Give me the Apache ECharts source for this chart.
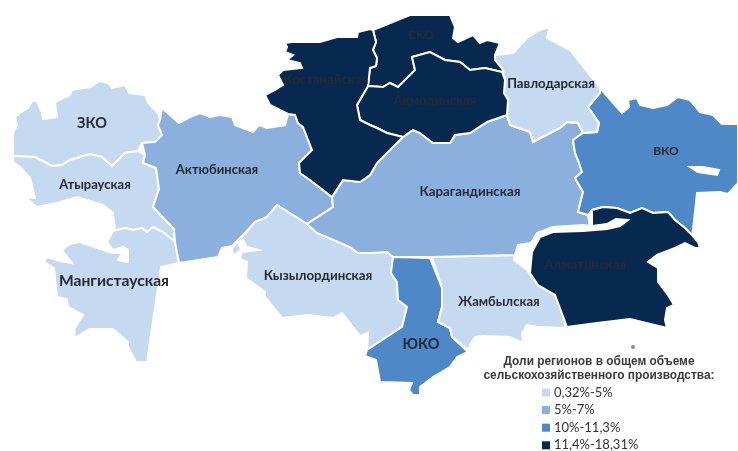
<!DOCTYPE html>
<html>
<head>
<meta charset="utf-8">
<style>
  html, body { margin: 0; padding: 0; background: #fff; }
  #charts { width: 738px; height: 451px; }
</style>
<script src="https://cdn.jsdelivr.net/npm/echarts@6/dist/echarts.min.js"></script>
</head>
<body>
<div id="charts"></div>
<script>
// region names and the legend class each one falls into
const regions = ["ЗКО", "Атырауская", "Мангистауская", "Актюбинская", "Кызылординская", "ЮКО", "Жамбылская",
  "Карагандинская", "ВКО", "Павлодарская", "СКО", "Акмолинская", "Костанайская", "Алматинская"];
const regionClass = [0, 0, 0, 1, 0, 2, 0, 1, 2, 0, 3, 3, 3, 3];
const classLabels = ["0,32%-5%", "5%-7%", "10%-11,3%", "11,4%-18,31%"];
const classColors = ["#c5d9f1", "#8bb0dd", "#4e88c7", "#07294f"];
const labelSizes = [14.5, 13, 15.6, 13, 13.3, 14.5, 13, 13.3, 12, 13.2, 12, 13.2, 13.2, 13.2];
const legendTitle = "Доли регионов в общем объеме\nсельскохозяйственного производства:";

// hand traced outlines, in the picture's own coordinate system
const outlines = {
  "ЗКО": [[[13,156],[13,133],[17,125],[15,117],[20,113],[28,108],[32,101],[37,101],[42,113],[43,119],[57,117],[55,102],[70,95],[72,90],[90,87],[100,81],[108,83],[112,88],[125,85],[129,93],[145,95],[148,103],[158,113],[160,120],[158,125],[162,135],[155,142],[142,143],[138,151],[125,153],[112,166],[102,157],[90,154],[70,160],[62,165],[52,166],[35,157]]],
  "Атырауская": [[[13,156],[35,157],[52,166],[62,165],[70,160],[90,154],[102,157],[112,166],[125,153],[138,151],[145,155],[143,163],[156,168],[159,189],[153,207],[174,229],[175,242],[163,232],[153,227],[147,232],[142,228],[133,230],[125,228],[113,231],[115,230],[113,213],[103,205],[77,197],[57,203],[37,207],[25,197],[35,198],[30,178],[20,167],[13,162]]],
  "Мангистауская": [[[113,231],[125,228],[133,230],[142,228],[147,232],[153,227],[163,232],[175,242],[179,263],[161,267],[147,362],[136,362],[128,347],[128,342],[113,329],[90,329],[74,338],[75,328],[83,315],[68,307],[67,299],[57,297],[54,268],[44,262],[47,257],[60,261],[72,263],[62,250],[70,244],[80,242],[112,253],[122,253],[118,260],[128,262],[128,250],[123,247],[113,250],[107,242]]],
  "Актюбинская": [[[162,108],[179,123],[190,117],[200,113],[210,117],[220,115],[232,117],[235,125],[253,132],[259,125],[267,128],[285,125],[288,114],[295,115],[298,123],[303,127],[312,150],[299,163],[300,173],[310,180],[332,197],[333,207],[307,224],[277,205],[267,217],[255,222],[248,230],[232,246],[222,248],[218,257],[179,263],[175,242],[174,229],[153,207],[159,189],[156,168],[143,163],[145,155],[142,143],[155,142],[162,135],[158,125],[160,120]]],
  "Кызылординская": [[[277,205],[307,224],[317,233],[350,247],[358,253],[370,253],[387,252],[393,257],[391,273],[397,282],[398,300],[407,307],[402,327],[367,350],[368,333],[360,336],[350,323],[342,313],[333,318],[308,315],[282,318],[265,297],[265,292],[246,278],[247,262],[240,259],[242,252],[258,250],[247,247],[243,240],[238,241],[241,250],[233,256],[232,248],[248,230],[255,222],[267,217]]],
  "ЮКО": [[[393,257],[430,258],[442,288],[442,307],[438,322],[450,328],[452,337],[468,352],[457,357],[450,367],[433,377],[420,387],[420,395],[413,395],[409,390],[412,383],[380,382],[376,360],[365,356],[367,350],[402,327],[407,307],[398,300],[397,282],[391,273]]],
  "Жамбылская": [[[432,257],[515,255],[514,260],[527,270],[538,285],[555,295],[565,320],[565,328],[537,327],[527,325],[522,333],[523,343],[510,337],[483,336],[475,337],[470,345],[469,350],[452,337],[450,328],[438,322],[442,307],[442,288]]],
  "Карагандинская": [[[332,197],[343,180],[360,182],[370,175],[377,163],[403,137],[413,130],[420,133],[433,143],[450,143],[455,135],[470,133],[487,122],[507,115],[510,125],[530,132],[533,142],[560,128],[567,122],[578,123],[583,133],[573,140],[575,153],[578,160],[582,172],[575,178],[583,192],[578,212],[588,215],[590,226],[583,225],[553,227],[537,233],[531,243],[518,245],[515,255],[432,257],[393,257],[387,252],[370,253],[358,253],[350,247],[317,233],[307,224],[333,207]]],
  "ВКО": [[[600,88],[622,113],[629,107],[628,100],[637,98],[640,105],[653,108],[667,105],[678,97],[690,100],[700,112],[713,115],[722,124],[738,124],[738,183],[728,194],[720,192],[697,193],[693,230],[692,235],[685,228],[675,220],[668,212],[653,213],[642,208],[630,213],[617,208],[603,207],[592,210],[588,215],[578,212],[583,192],[575,178],[582,172],[578,160],[575,153],[573,140],[583,133],[597,132],[599,123],[588,107],[600,93]],
    [[698,172],[717,175],[719,170],[703,167],[690,167]]],
  "Павлодарская": [[[495,55],[513,53],[527,38],[540,30],[550,27],[548,33],[547,38],[570,50],[600,88],[600,93],[588,107],[599,123],[597,132],[583,133],[578,123],[567,122],[560,128],[533,142],[530,132],[510,125],[507,115],[508,100],[504,93],[505,80],[503,70],[495,60]]],
  "СКО": [[[373,30],[410,15],[450,15],[455,27],[453,38],[458,42],[473,35],[480,43],[487,40],[500,43],[495,55],[495,60],[503,70],[502,72],[485,68],[470,70],[460,62],[445,60],[430,52],[412,57],[415,70],[398,87],[390,83],[383,87],[368,86],[370,68],[376,66],[377,58],[373,50],[376,42]]],
  "Акмолинская": [[[368,86],[383,87],[390,83],[398,87],[415,70],[412,57],[430,52],[445,60],[460,62],[470,70],[485,68],[502,72],[505,80],[504,93],[508,100],[507,115],[487,122],[470,133],[455,135],[450,143],[433,143],[420,133],[413,130],[403,137],[387,133],[377,128],[370,125],[360,120],[357,105]]],
  "Костанайская": [[[285,43],[292,42],[320,42],[337,37],[357,37],[358,32],[370,29],[373,30],[376,42],[373,50],[377,58],[376,66],[370,68],[368,86],[357,105],[360,120],[370,125],[377,128],[387,133],[403,137],[377,163],[370,175],[360,182],[343,180],[332,197],[310,180],[300,173],[299,163],[312,150],[303,127],[298,123],[295,115],[288,114],[270,105],[265,95],[275,90],[283,85],[278,75],[283,70],[302,68],[300,63],[287,60],[293,55],[285,52],[287,47]]],
  "Алматинская": [[[592,210],[603,207],[617,208],[630,213],[642,208],[653,213],[668,212],[675,220],[685,228],[692,235],[698,242],[700,248],[695,248],[685,243],[675,248],[657,255],[648,262],[658,268],[658,282],[668,295],[674,305],[667,308],[665,320],[667,328],[630,319],[597,323],[567,327],[555,295],[538,285],[530,273],[532,252],[540,237],[553,232],[583,231],[607,229],[620,226],[628,220],[616,219],[607,224],[592,226]]]
};
const labelPoints = {
  "ЗКО": [92,123], "Атырауская": [95,185], "Мангистауская": [114,281], "Актюбинская": [217,170],
  "Кызылординская": [318,276], "ЮКО": [421,344], "Жамбылская": [499,302], "Карагандинская": [470,192],
  "ВКО": [666,151], "Павлодарская": [551,84], "СКО": [421,35], "Акмолинская": [435,101],
  "Костанайская": [326,80], "Алматинская": [585,265]
};

const kz = {
  type: "FeatureCollection",
  features: regions.map(function (name) {
    return {
      type: "Feature",
      properties: { name: name, cp: labelPoints[name] },
      geometry: { type: "Polygon", coordinates: outlines[name] }
    };
  })
};
echarts.registerMap("kz", kz);

let myChart = echarts.init(document.getElementById("charts"));
let option = {
  animation: false,
  backgroundColor: "#fff",
  title: {
    text: legendTitle,
    left: 594,
    top: 350,
    textAlign: "center",
    textStyle: {
      fontFamily: "Liberation Sans",
      fontSize: 11.9,
      fontWeight: "bold",
      color: "#3a3a3a",
      lineHeight: 14
    }
  },
  visualMap: {
    type: "piecewise",
    left: 542,
    top: 385,
    padding: 0,
    inverse: true,
    itemWidth: 8,
    itemHeight: 8,
    itemGap: 2.6,
    itemSymbol: "rect",
    textGap: 4,
    hoverLink: false,
    selectedMode: false,
    seriesIndex: 0,
    align: "left",
    pieces: classLabels.map(function (label, i) {
      return { value: i, label: label, color: classColors[i] };
    }),
    textStyle: { fontFamily: "Lato", fontSize: 13, color: "#333", lineHeight: 15, height: 15 }
  },
  series: [
    {
      type: "map",
      map: "kz",
      silent: true,
      left: 0,
      top: 0,
      width: 738,
      height: 451,
      boundingCoords: [[0, 0], [738, 451]],
      projection: {
        project: function (p) { return [p[0], p[1]]; },
        unproject: function (p) { return [p[0], p[1]]; }
      },
      label: {
        show: true,
        fontFamily: "Lato",
        fontWeight: "bold",
        color: "#242a33"
      },
      itemStyle: { borderColor: "#fff", borderWidth: 2 },
      data: regions.map(function (name, i) {
        return { name: name, value: regionClass[i], label: { fontSize: labelSizes[i] } };
      })
    }
  ],
  graphic: [
    { type: "circle", shape: { cx: 633, cy: 347, r: 2 }, style: { fill: "#8a8a8a" }, silent: true }
  ]
};
myChart.setOption(option);
</script>
</body>
</html>
